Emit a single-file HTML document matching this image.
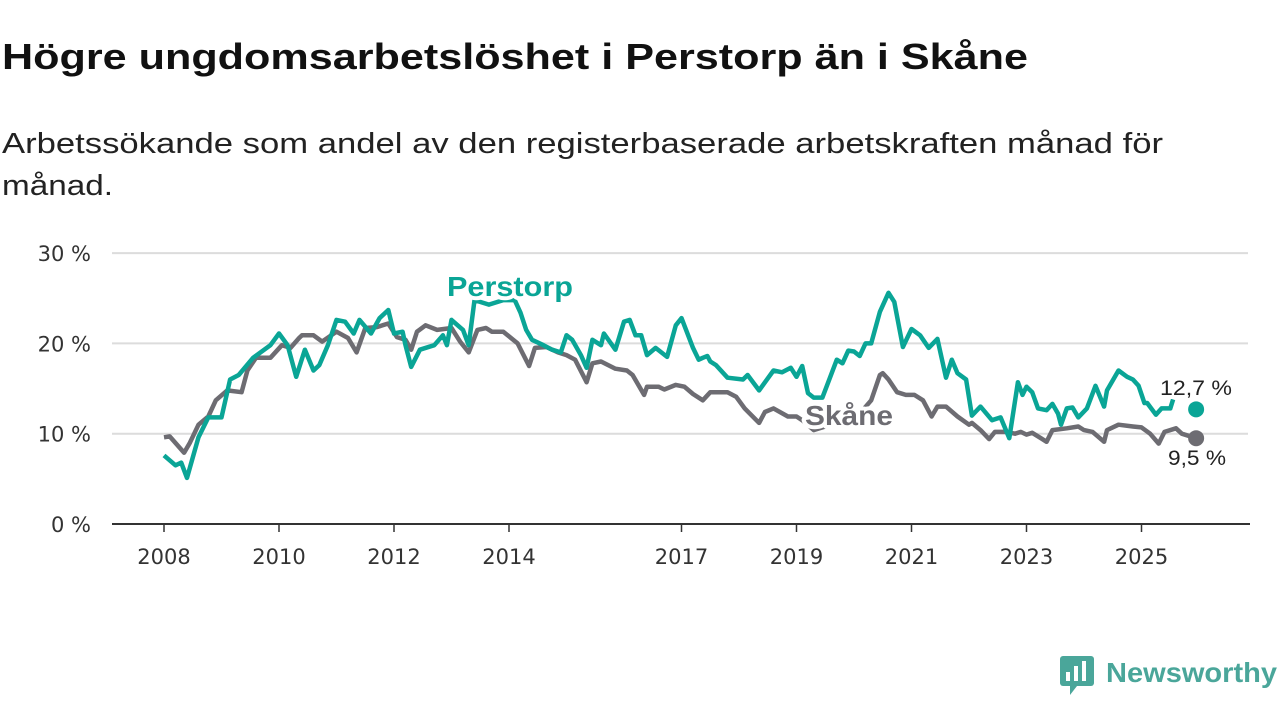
<!DOCTYPE html>
<html><head><meta charset="utf-8"><style>
body{margin:0;width:1280px;height:720px;background:#fff;font-family:"Liberation Sans",sans-serif;overflow:hidden}
</style></head><body>
<svg width="1280" height="720" viewBox="0 0 1280 720">
<text x="2" y="69" font-size="36" font-weight="bold" fill="#111" textLength="1026" lengthAdjust="spacingAndGlyphs">Högre ungdomsarbetslöshet i Perstorp än i Skåne</text>
<text x="2" y="153" font-size="29" fill="#222" textLength="1161" lengthAdjust="spacingAndGlyphs">Arbetssökande som andel av den registerbaserade arbetskraften månad för</text>
<text x="2" y="195" font-size="29" fill="#222" textLength="111" lengthAdjust="spacingAndGlyphs">månad.</text>
<g id="grid"></g><g id="xaxis"></g><g id="lines"></g><g id="labels"></g>
<g>
<rect x="1060" y="656" width="34" height="30" rx="3" fill="#4aa69a"/>
<polygon points="1070,686 1077,686 1070,695" fill="#4aa69a"/>
<rect x="1066" y="672" width="4" height="9" fill="#fff"/>
<rect x="1074" y="666" width="4" height="15" fill="#fff"/>
<rect x="1082" y="661" width="4" height="20" fill="#fff"/>
<text x="1106" y="682" font-size="28" font-weight="bold" fill="#4aa69a" textLength="171" lengthAdjust="spacingAndGlyphs">Newsworthy</text>
</g>
</svg>
<script>
const yTicks=[0,10,20,30];
const xTickYears=[2008,2010,2012,2014,2017,2019,2021,2023,2025];
const pDates=[2008.0,2008.2,2008.3,2008.4,2008.6,2008.77,2009.0,2009.15,2009.3,2009.55,2009.85,2010.0,2010.15,2010.3,2010.45,2010.6,2010.7,2010.85,2011.0,2011.15,2011.3,2011.4,2011.6,2011.75,2011.9,2012.0,2012.15,2012.2,2012.3,2012.45,2012.7,2012.85,2012.92,2013.0,2013.2,2013.3,2013.4,2013.65,2013.9,2014.1,2014.2,2014.3,2014.4,2014.6,2014.75,2014.9,2015.0,2015.1,2015.25,2015.35,2015.45,2015.6,2015.65,2015.85,2016.0,2016.1,2016.2,2016.3,2016.4,2016.55,2016.75,2016.9,2017.0,2017.2,2017.3,2017.37,2017.45,2017.5,2017.6,2017.8,2018.07,2018.15,2018.35,2018.6,2018.75,2018.9,2019.0,2019.1,2019.2,2019.3,2019.45,2019.7,2019.8,2019.9,2020.0,2020.1,2020.2,2020.3,2020.45,2020.6,2020.7,2020.85,2021.0,2021.15,2021.3,2021.45,2021.6,2021.7,2021.8,2021.95,2022.05,2022.2,2022.4,2022.55,2022.7,2022.85,2022.93,2023.0,2023.1,2023.2,2023.35,2023.45,2023.55,2023.6,2023.7,2023.8,2023.9,2024.05,2024.2,2024.35,2024.4,2024.6,2024.75,2024.85,2024.95,2025.05,2025.1,2025.25,2025.35,2025.5,2025.55];
const pValues=[7.6,6.5,6.8,5.1,9.6,11.8,11.8,16,16.5,18.4,19.8,21.1,19.8,16.3,19.3,17,17.6,19.8,22.6,22.4,21.1,22.6,21.1,22.8,23.7,21.1,21.3,19.8,17.4,19.3,19.8,20.9,19.8,22.6,21.5,19.8,24.8,24.3,24.8,24.8,23.4,21.5,20.4,19.8,19.3,19,20.9,20.4,18.7,17.3,20.4,19.8,21.1,19.3,22.4,22.6,20.9,20.9,18.7,19.5,18.5,22,22.8,19.5,18.2,18.4,18.6,18,17.6,16.2,16,16.5,14.8,17,16.8,17.3,16.3,17.5,14.5,14,14,18.2,17.8,19.2,19.1,18.6,20,20,23.5,25.6,24.6,19.6,21.6,20.9,19.5,20.5,16.2,18.2,16.7,16,12,13,11.5,11.8,9.5,15.7,14.3,15.2,14.6,12.8,12.6,13.3,12.2,11,12.8,12.9,11.8,12.8,15.3,13,14.8,17,16.3,16,15.3,13.4,13.4,12.1,12.8,12.8,13.8];
const sDates=[2008.0,2008.1,2008.35,2008.45,2008.6,2008.77,2008.9,2009.1,2009.35,2009.45,2009.6,2009.85,2010.05,2010.2,2010.35,2010.4,2010.6,2010.75,2011.0,2011.2,2011.35,2011.5,2011.7,2011.9,2012.05,2012.2,2012.3,2012.4,2012.55,2012.75,2013.0,2013.15,2013.3,2013.45,2013.6,2013.7,2013.9,2014.15,2014.35,2014.45,2014.65,2014.85,2015.0,2015.15,2015.35,2015.45,2015.6,2015.85,2016.05,2016.15,2016.35,2016.4,2016.6,2016.7,2016.9,2017.05,2017.2,2017.37,2017.5,2017.8,2017.95,2018.1,2018.35,2018.45,2018.6,2018.85,2019.0,2019.1,2019.3,2019.6,2020.0,2020.3,2020.45,2020.5,2020.6,2020.75,2020.9,2021.05,2021.2,2021.35,2021.45,2021.6,2021.8,2022.0,2022.05,2022.2,2022.35,2022.45,2022.65,2022.8,2022.9,2023.0,2023.1,2023.25,2023.35,2023.45,2023.7,2023.9,2024.0,2024.15,2024.35,2024.4,2024.6,2024.85,2025.0,2025.15,2025.3,2025.4,2025.6,2025.7,2025.95];
const sValues=[9.6,9.7,7.9,9,11,11.9,13.7,14.8,14.6,17,18.4,18.4,19.8,19.5,20.6,20.9,20.9,20.2,21.3,20.6,19,21.7,21.8,22.2,20.7,20.4,19.3,21.3,22,21.5,21.7,20.2,19,21.5,21.7,21.3,21.3,20,17.5,19.5,19.6,19,18.7,18.2,15.7,17.8,18,17.2,17,16.5,14.3,15.2,15.2,14.9,15.4,15.2,14.4,13.7,14.6,14.6,14.1,12.8,11.2,12.4,12.8,11.9,11.9,11.5,10.4,11,11.5,13.7,16.5,16.7,16,14.6,14.3,14.3,13.7,11.9,13,13,11.9,11,11.2,10.4,9.4,10.2,10.2,10,10.2,9.9,10.1,9.5,9.1,10.4,10.6,10.8,10.4,10.2,9.1,10.4,11,10.8,10.7,10,8.9,10.2,10.6,10,9.5];
const lastP=12.7, lastS=9.5, lastDate=2025.95;
const NS="http://www.w3.org/2000/svg";
const X=t=>164+(t-2008)*57.5, Y=v=>524-v*9.03;
function mk(tag,attrs,parent){const e=document.createElementNS(NS,tag);for(const k in attrs)e.setAttribute(k,attrs[k]);parent.appendChild(e);return e;}
const grid=document.getElementById('grid'),xa=document.getElementById('xaxis'),lines=document.getElementById('lines'),lab=document.getElementById('labels');
const TF='"DejaVu Sans", sans-serif';
yTicks.forEach(v=>{
 if(v>0){const g=mk('line',{x1:112,x2:1248,y1:Y(v),y2:Y(v),stroke:'#dcdcdc','stroke-width':2},grid);
 
 }
 const t=mk('text',{x:91,y:Y(v)+8,'font-size':21,fill:'#333','text-anchor':'end','font-family':TF},grid);t.textContent=v+' %';
 
 
});
const ax=mk('line',{x1:112,x2:1250,y1:524,y2:524,stroke:'#333','stroke-width':2},xa);


xTickYears.forEach(yr=>{
 const tk=mk('line',{x1:X(yr),x2:X(yr),y1:524,y2:532,stroke:'#333','stroke-width':1.5},xa);
 
 
 const t=mk('text',{x:X(yr),y:564,'font-size':21,fill:'#333','text-anchor':'middle','font-family':TF},xa);t.textContent=yr;
 
 
});
function path(d,v){return d.map((t,i)=>(i?'L':'M')+X(t).toFixed(1)+','+Y(v[i]).toFixed(1)).join('');}
const sl=mk('path',{d:path(sDates,sValues),fill:'none',stroke:'#6d6c72','stroke-width':4.5,'stroke-linejoin':'round'},lines);


const pl=mk('path',{d:path(pDates,pValues),fill:'none',stroke:'#0aa596','stroke-width':4.5,'stroke-linejoin':'round'},lines);


const ds=mk('circle',{cx:X(lastDate),cy:Y(lastS),r:8,fill:'#6d6c72'},lines);


const dp=mk('circle',{cx:X(lastDate),cy:Y(lastP),r:8,fill:'#0aa596'},lines);


function txt(x,y,s,size,w,fill,name,anchor,len){const a={x:x,y:y,'font-size':size,'font-weight':w,fill:fill,stroke:'#fff','stroke-width':8,'paint-order':'stroke','stroke-linejoin':'round','text-anchor':anchor||'start'};
 if(len){a.textLength=len;a.lengthAdjust='spacingAndGlyphs';}
 const t=mk('text',a,lab);t.textContent=s;
 
 }
txt(447,296,'Perstorp',28,'bold','#0aa596','perstorp-label','start',126);
txt(805,425,'Skåne',28,'bold','#6d6c72','skane-label','start',88);
txt(1196,395,'12,7 %',21,'normal','#222','perstorp-end-label','middle',72);
txt(1197,465,'9,5 %',21,'normal','#222','skane-end-label','middle',58);
</script>
</body></html>
